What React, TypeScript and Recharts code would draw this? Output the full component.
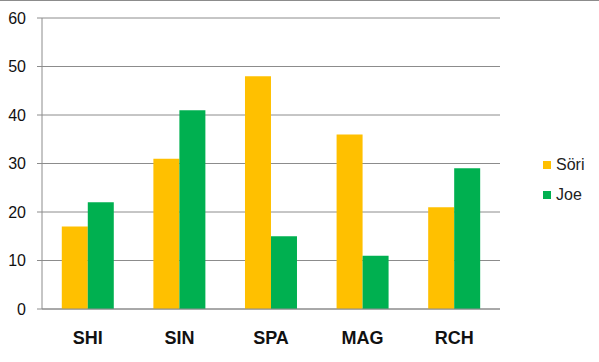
import { BarChart, Bar, XAxis, YAxis, CartesianGrid } from "recharts"

const categories = ["SHI", "SIN", "SPA", "MAG", "RCH"]
const soriValues = [17, 31, 48, 36, 21]
const joeValues = [22, 41, 15, 11, 29]
const yTicks = [0, 10, 20, 30, 40, 50, 60]

const SORI = "#FFC000"
const JOE = "#00B050"
const GRID = "#8c8c8c"
const FONT = "'Liberation Sans', Arial, sans-serif"

const data = categories.map((c, i) => ({ name: c, sori: soriValues[i], joe: joeValues[i] }))

// legend drawn outside the chart so the plot keeps its full width
const series = [{ label: "Söri", color: SORI }, { label: "Joe", color: JOE }]

export default function App() {
  return (
    <div style={{ position: "absolute", left: 0, top: 0, width: 599, height: 362, background: "#fff", borderTop: `1px solid ${GRID}`, boxSizing: "border-box" }}>
      <BarChart width={599} height={361} data={data}
        margin={{ top: 17, right: 99, left: 0, bottom: 0 }}
        barCategoryGap="21.6%" barGap={0}>
        <CartesianGrid vertical={false} stroke={GRID} strokeWidth={1} />
        <XAxis dataKey="name" height={53} axisLine={{ stroke: GRID }} tickLine={false}
          tickMargin={16}
          tick={{ fill: "#111", fontSize: 18, fontWeight: 700, fontFamily: FONT }} />
        <YAxis width={42} domain={[0, 60]} ticks={yTicks} interval={0}
          axisLine={{ stroke: GRID }} tickLine={{ stroke: GRID }} tickSize={5} tickMargin={11}
          tick={{ fill: "#111", fontSize: 16, fontFamily: FONT }} />
        <Bar dataKey="sori" name="Söri" fill={SORI} isAnimationActive={false} />
        <Bar dataKey="joe" name="Joe" fill={JOE} isAnimationActive={false} />
      </BarChart>
      <div style={{ position: "absolute", left: 543, top: 149, fontFamily: FONT, fontSize: 16, color: "#222" }}>
        {series.map((s) => (
          <div key={s.label} style={{ display: "flex", alignItems: "center", height: 30 }}>
            <span style={{ display: "inline-block", width: 8, height: 8, background: s.color, marginRight: 5 }} />
            {s.label}
          </div>
        ))}
      </div>
    </div>
  )
}
